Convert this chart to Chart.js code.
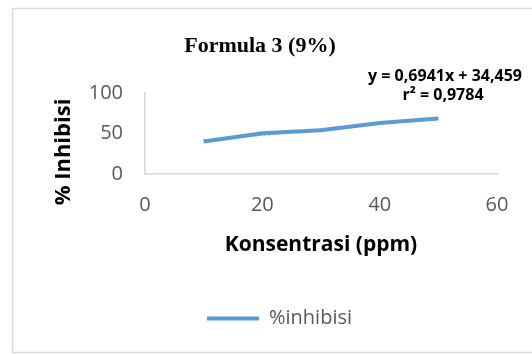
<!DOCTYPE html>
<html><head><meta charset="utf-8">
<script src="https://cdn.jsdelivr.net/npm/chart.js@4/dist/chart.umd.min.js"></script>
<style>html,body{margin:0;padding:0;background:#fff;}#wrap{width:532px;height:354px;position:relative}</style>
</head><body><div id="wrap"><canvas id="c" width="532" height="354"></canvas></div>
<script>
const categories = [10, 20, 30, 40, 50];
const inhibisi = [40.0, 50.4, 54.1, 63.0, 68.6];
const trendX = [10, 50];
const trendY = [41.4, 69.2];
const xTicks = [0, 20, 40, 60];
const yTicks = [0, 50, 100];
const titleText = 'Formula 3 (9%)';
const yTitle = '% Inhibisi';
const xTitle = 'Konsentrasi (ppm)';
const seriesName = '%inhibisi';
const eqLines = ['y = 0,6941x + 34,459', 'r\u00B2 = 0,9784'];

const BLUE = '#5B9BD5';
const SANS = '"Open Sans", "Liberation Sans", sans-serif';

const extras = {
  id: 'extras',
  beforeDraw(chart) {
    const ctx = chart.ctx;
    ctx.save();
    ctx.fillStyle = '#fff';
    ctx.fillRect(0, 0, chart.width, chart.height);
    ctx.strokeStyle = '#d9d9d9';
    ctx.lineWidth = 1.5;
    ctx.strokeRect(12.5, 8.5, 560, 344);
    ctx.restore();
  },
  afterLayout(chart) {
    const lg = chart.legend;
    if (lg) { lg.left += 19.5; lg.right += 19.5; }
  },
  afterDraw(chart) {
    const ctx = chart.ctx;
    ctx.save();
    ctx.translate(64, 152);
    ctx.rotate(-Math.PI / 2);
    ctx.font = 'bold 22px ' + SANS;
    ctx.fillStyle = '#000';
    ctx.textAlign = 'center';
    ctx.textBaseline = 'middle';
    ctx.fillText(yTitle, 0, 0);
    ctx.restore();
    ctx.save();
    ctx.font = 'bold 16px ' + SANS;
    ctx.fillStyle = '#000';
    ctx.textAlign = 'center';
    ctx.textBaseline = 'middle';
    ctx.fillText(eqLines[0], 445, 76);
    ctx.fillText(eqLines[1], 443, 95);
    ctx.restore();
  }
};

new Chart(document.getElementById('c'), {
  type: 'line',
  data: {
    datasets: [
      {
        label: seriesName,
        data: categories.map((x, i) => ({x: x, y: inhibisi[i]})),
        borderColor: BLUE,
        backgroundColor: BLUE,
        borderWidth: 4,
        pointRadius: 0,
        tension: 0,
        order: 1,
        pointStyle: 'line'
      },
      {
        label: 'trend',
        data: trendX.map((x, i) => ({x: x, y: trendY[i]})),
        borderColor: BLUE,
        borderWidth: 2,
        borderDash: [2, 2],
        pointRadius: 0,
        tension: 0,
        order: 2
      }
    ]
  },
  options: {
    responsive: false,
    animation: false,
    devicePixelRatio: 1,
    layout: { padding: { left: 23, right: 35, top: 0, bottom: 15.5 } },
    plugins: {
      title: {
        display: true,
        text: titleText,
        color: '#000',
        font: { family: '"Liberation Serif", "Times New Roman", serif', size: 22, weight: 'bold', lineHeight: 1.2 },
        padding: { top: 33.4, bottom: 33.2 }
      },
      legend: {
        position: 'bottom',
        labels: {
          filter: (item) => item.datasetIndex === 0,
          usePointStyle: true,
          pointStyle: 'line',
          pointStyleWidth: 52,
          color: '#595959',
          padding: 10,
          font: { family: SANS, size: 20 }
        }
      },
      tooltip: { enabled: false }
    },
    scales: {
      x: {
        type: 'linear',
        min: 0, max: 60,
        afterBuildTicks: (s) => { s.ticks = xTicks.map(v => ({value: v})); },
        afterFit: (s) => { s.height = 124.5; },
        grid: { display: false, drawTicks: false },
        border: { display: true, color: '#d9d9d9', width: 1.5 },
        ticks: { color: '#595959', padding: 19, font: { family: SANS, size: 20 } },
        title: {
          display: true, text: xTitle, color: '#000',
          font: { family: SANS, size: 21, weight: 'bold', lineHeight: 1.2 },
          padding: { top: 0, bottom: 40.5 }
        }
      },
      y: {
        min: 0, max: 100,
        afterBuildTicks: (s) => { s.ticks = yTicks.map(v => ({value: v})); },
        afterFit: (s) => { s.width = 122; },
        grid: { display: false, drawTicks: false },
        border: { display: true, color: '#d9d9d9', width: 1.5 },
        ticks: { color: '#595959', padding: 22, font: { family: SANS, size: 20 } }
      }
    }
  },
  plugins: [extras]
});
</script>
</body></html>
